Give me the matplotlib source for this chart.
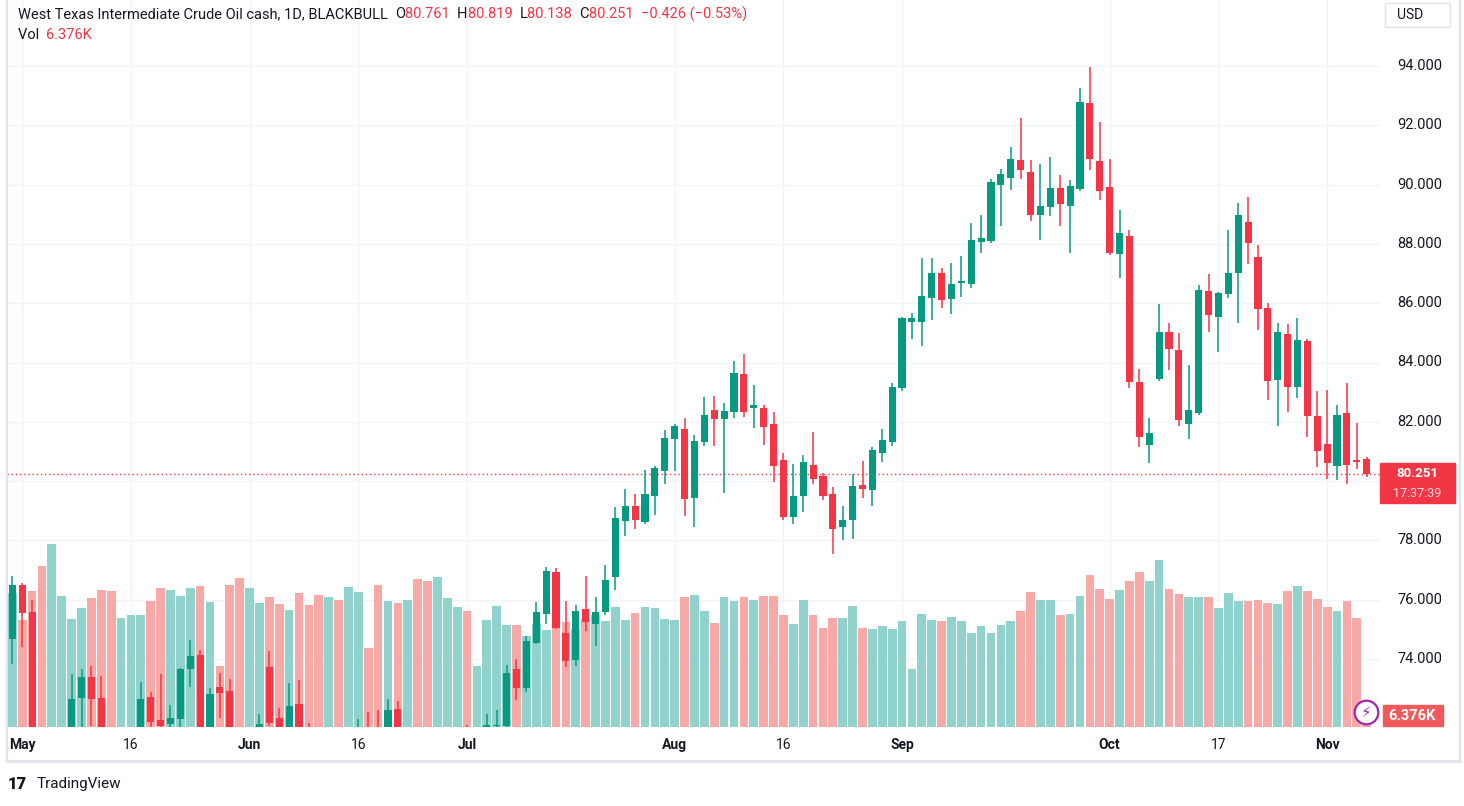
import matplotlib
matplotlib.use("Agg")
import matplotlib.pyplot as plt
from matplotlib.lines import Line2D
import numpy as np

plt.rcParams['font.family'] = ['Roboto', 'DejaVu Sans']

opens = [74.67,76.49,75.58,71.3,68.5,69.4,71.3,72.68,73.39,72.68,71.2,70.3,70.8,71.4,72.72,71.94,71.81,71.97,73.66,74.13,
71.6,73.05,72.92,70.8,69.5,70.1,73.73,72.01,71.4,72.48,71.3,70.5,69.9,70.7,70.0,70.8,71.5,71.6,71.0,72.31,
71.0,71.5,70.2,69.5,70.1,70.8,71.3,70.7,71.4,71.75,71.74,73.66,73.02,74.54,75.51,76.93,74.88,73.97,75.69,75.18,
75.59,76.77,78.65,79.16,78.62,79.5,80.34,81.42,81.76,79.43,81.32,82.4,82.1,82.33,83.61,82.46,82.47,81.92,80.71,78.79,
79.5,80.54,80.17,79.57,78.45,78.69,79.87,79.7,80.95,81.32,83.14,85.36,85.36,86.18,87.02,86.14,86.68,86.65,88.06,88.1,
89.99,90.22,90.83,90.43,88.97,89.24,89.89,89.28,89.85,92.75,90.8,89.92,87.66,88.27,83.34,81.22,83.44,85.03,84.42,81.92,
82.3,86.41,85.53,86.31,87.02,88.74,87.56,85.84,83.41,84.96,83.17,84.72,82.2,81.25,80.51,82.3,80.71,80.761]
highs = [76.80,76.57,75.99,71.6,69.8,71.4,73.51,73.66,73.76,73.42,71.5,71.0,71.6,73.22,72.88,73.49,72.45,73.69,74.64,74.30,
73.02,73.53,73.32,71.2,70.4,72.14,74.27,72.34,73.19,73.29,71.84,70.9,71.0,71.2,71.0,71.97,72.21,72.28,72.65,72.58,
71.6,71.6,70.5,70.4,71.0,71.5,71.77,71.5,72.14,72.28,73.8,74.0,74.77,75.92,77.10,77.07,75.96,75.82,76.80,76.09,
77.17,79.13,79.73,79.57,80.37,80.51,81.72,81.93,82.13,81.55,82.84,82.87,82.63,84.05,84.29,83.24,82.57,82.33,80.95,80.58,
80.88,81.66,80.27,79.80,79.16,80.24,80.68,81.15,81.76,83.31,85.53,85.67,87.52,87.52,87.19,87.36,87.59,88.7,88.97,90.19,
90.53,91.27,92.25,90.83,90.69,90.93,90.32,90.15,93.26,93.97,92.11,90.86,89.14,88.47,83.78,82.13,85.97,85.33,84.99,83.91,
86.61,86.98,86.38,88.47,89.38,89.58,87.96,86.01,85.33,85.3,85.5,84.79,83.04,83.07,82.57,83.31,81.96,80.819]
lows = [73.83,74.41,70.9,68.5,64.5,69.0,71.0,71.6,71.74,70.9,70.0,69.9,70.4,71.2,71.6,71.3,71.5,71.7,73.06,71.3,
71.4,72.01,70.5,69.0,69.2,69.9,71.75,71.2,71.2,71.0,70.2,69.6,69.7,69.8,69.8,70.5,70.6,70.8,70.8,71.2,
70.4,70.0,69.3,69.2,69.9,70.5,70.4,70.5,71.2,71.5,71.6,72.61,72.88,74.50,75.18,75.01,73.73,73.76,74.95,74.44,
75.5,76.33,78.15,78.39,78.55,78.86,79.90,80.34,78.82,78.45,81.18,81.18,79.6,82.13,82.16,81.79,81.22,79.97,78.69,78.55,
78.96,79.90,79.36,77.54,78.0,78.05,79.43,79.16,80.64,81.18,83.04,84.79,84.56,85.43,85.84,85.64,86.21,86.51,87.69,88.03,
88.6,89.82,90.19,88.77,88.13,88.94,88.6,87.69,89.78,90.49,89.48,87.63,86.85,83.14,81.15,80.61,83.38,83.75,81.86,81.42,
82.23,85.03,84.35,86.17,85.33,87.32,85.1,82.74,81.86,82.33,82.8,81.49,80.48,80.07,80.04,79.9,80.41,80.138]
closes = [76.49,75.56,71.3,68.8,69.4,71.2,72.65,73.39,72.65,71.2,70.3,70.8,71.4,72.65,71.87,71.74,72.01,73.66,74.10,71.5,
72.82,72.85,70.8,69.5,70.1,71.8,71.84,71.4,72.41,71.3,70.5,69.9,70.7,70.0,70.8,71.5,70.9,71.0,72.28,71.5,
71.5,70.2,69.5,70.1,70.8,71.3,70.7,71.4,71.77,71.77,73.53,73.02,74.6,75.58,76.96,75.05,73.93,75.62,75.25,75.59,
76.66,78.76,79.16,78.69,79.57,80.44,81.45,81.86,79.40,81.35,82.23,82.1,82.37,83.65,82.33,82.57,81.82,80.51,78.79,79.5,
80.65,80.07,79.50,78.38,78.69,79.83,79.73,81.05,81.39,83.17,85.5,85.5,86.24,87.02,86.11,86.65,86.74,88.13,88.2,90.09,
90.36,90.86,90.49,88.97,89.28,89.89,89.35,89.95,92.79,90.86,89.78,87.69,88.37,83.34,81.49,81.62,85.03,84.46,82.06,82.4,
86.45,85.6,86.34,87.02,88.97,88.03,85.8,83.38,85.03,83.17,84.76,82.2,81.02,80.61,82.23,80.54,80.64,80.251]
# volume (relative units)
volumes = [134,107,136,161,183,131,108,119,129,137,136,109,112,112,126,139,137,131,139,141,125,61,142,149,139,
124,130,123,117,134,122,132,130,127,140,135,79,142,126,124,127,148,146,150,129,120,116,61,107,121,102,102,91,103,97,
99,105,98,108,112,106,120,107,114,120,119,108,107,130,132,116,104,130,126,130,127,131,131,112,103,127,112,99,109,
109,121,99,98,101,98,106,58,113,107,106,110,106,94,101,94,102,106,116,135,127,127,112,113,131,152,138,
128,137,146,155,146,167,138,133,130,130,130,119,134,126,126,127,124,123,136,141,136,128,120,116,126,109,2]
tick_idx = [1, 12, 24, 35, 46, 67, 78, 90, 111, 122, 133]
tick_lbl = ['May', '16', 'Jun', '16', 'Jul', 'Aug', '16', 'Sep', 'Oct', '17', 'Nov']
price_ticks = [74, 76, 78, 80, 82, 84, 86, 88, 90, 92, 94]
last_price = 80.251

W, H = 1464, 806
fig = plt.figure(figsize=(W/100, H/100), dpi=100)
fig.patch.set_facecolor('white')
L, R, T, B = 7, 1380, 0, 727
rect = [L/W, 1-B/H, (R-L)/W, (B-T)/H]
axv = fig.add_axes(rect)
ax = fig.add_axes(rect)
ax.patch.set_alpha(0)
GREEN, RED = '#089981', '#f23645'
VG, VR = '#92d2cc', '#f7a9a7'
n = len(closes)
x = np.arange(n)
sp = (1366.7-12.3)/137
x0 = (L-12.3)/sp
x1 = (R-12.3)/sp
up = np.array(closes) >= np.array(opens)

axv.bar(x, volumes, width=0.88, color=[VG if u else VR for u in up], zorder=2)
axv.set_xlim(x0, x1)
axv.set_ylim(0, B-T)
axv.axis('off')

ppx = 593/20.0
ytop = 94 + 66/ppx
ybot = 94 - (B-66)/ppx
ax.set_xlim(x0, x1)
ax.set_ylim(ybot, ytop)
for s in ax.spines.values():
    s.set_visible(False)
ax.set_xticks([]); ax.set_yticks([])
for p in price_ticks:
    axv.plot([x0, x1], [(p-ybot)*ppx]*2, color='#f0f3fa', lw=1, zorder=1)
for t in tick_idx:
    axv.axvline(t, color='#f0f3fa', lw=1, zorder=1)

cols = [GREEN if u else RED for u in up]
ax.vlines(x, lows, highs, colors=cols, lw=1.1, zorder=3)
bot = np.minimum(opens, closes)
hgt = np.maximum(np.abs(np.array(closes)-np.array(opens)), 0.04)
ax.bar(x, hgt, bottom=bot, width=0.72, color=cols, zorder=4)
ax.axhline(last_price, color=RED, lw=1, ls=(0, (1, 2)), zorder=2)

# price scale labels
for p in price_ticks:
    fig.text(1420/W, 1-((ytop-p)*ppx)/H, f"{p:.3f}", ha='center', va='center', fontsize=10.5, color='#131722')
fig.patches.append(plt.Rectangle((1380/W, 1-503/H), 75/W, 40/H, transform=fig.transFigure, color=RED, zorder=5))
fig.text(1417/W, 1-473/H, "80.251", ha='center', va='center', fontsize=9.5, color='white', weight='bold', zorder=6)
fig.text(1417/W, 1-493/H, "17:37:39", ha='center', va='center', fontsize=9, color='#ffe0e3', zorder=6)
fig.patches.append(plt.Rectangle((1383/W, 1-726/H), 60/W, 21/H, transform=fig.transFigure, color='#f05a5a', zorder=5))
fig.text(1412/W, 1-716/H, "6.376K", ha='center', va='center', fontsize=10.5, color='white', weight='bold', zorder=6)
fig.patches.append(plt.Rectangle((1385/W, 1-27/H), 65/W, 24/H, transform=fig.transFigure, facecolor='white', edgecolor='#e0e3eb', lw=1, zorder=5))
fig.text(1410/W, 1-15/H, "USD", ha='center', va='center', fontsize=10, color='#131722', zorder=6)
# lightning icon
fig.add_artist(Line2D([1366/W], [1-712/H], marker='o', ms=17, mfc='white', mec='#9c27b0', mew=1.6, transform=fig.transFigure))
fig.text(1366/W, 1-712/H, "⚡", ha='center', va='center', fontsize=11, color='#9c27b0', family=['DejaVu Sans'])

# time axis labels
for t, lb in zip(tick_idx, tick_lbl):
    px = 12.3 + t*sp
    bold = not lb.isdigit()
    fig.text(px/W, 1-745/H, lb, ha='center', va='center', fontsize=10, color='#131722',
             weight='bold' if bold else 'normal')

# frame
fig.add_artist(Line2D([L/W, L/W], [1, 1-761/H], color='#e0e3eb', lw=1.5, transform=fig.transFigure))
fig.add_artist(Line2D([1460/W, 1460/W], [1, 1-761/H], color='#e0e3eb', lw=1.5, transform=fig.transFigure))
fig.add_artist(Line2D([L/W, 1460/W], [1-761/H]*2, color='#e0e3eb', lw=2, transform=fig.transFigure))

# header
fig.canvas.draw()
rend = fig.canvas.get_renderer()
def seq(xp, yp, parts, fs=10.5):
    for txt, c in parts:
        t = fig.text(xp/W, 1-yp/H, txt, ha='left', va='center', fontsize=fs, color=c)
        bb = t.get_window_extent(renderer=rend)
        xp += bb.width
seq(18, 14, [("West Texas Intermediate Crude Oil cash, 1D, BLACKBULL  ", '#131722'),
             ("O", '#131722'), ("80.761  ", RED), ("H", '#131722'), ("80.819  ", RED),
             ("L", '#131722'), ("80.138  ", RED), ("C", '#131722'), ("80.251  ", RED),
             ("\u22120.426 (\u22120.53%)", RED)])
seq(18, 35, [("Vol  ", '#131722'), ("6.376K", RED)])
fig.text(8/W, 1-784/H, "17", fontsize=12, weight='heavy', color='#131722', va='center')
fig.text(37/W, 1-784/H, "TradingView", fontsize=11, color='#131722', va='center')

fig.savefig("out.png", dpi=100, facecolor='white')
